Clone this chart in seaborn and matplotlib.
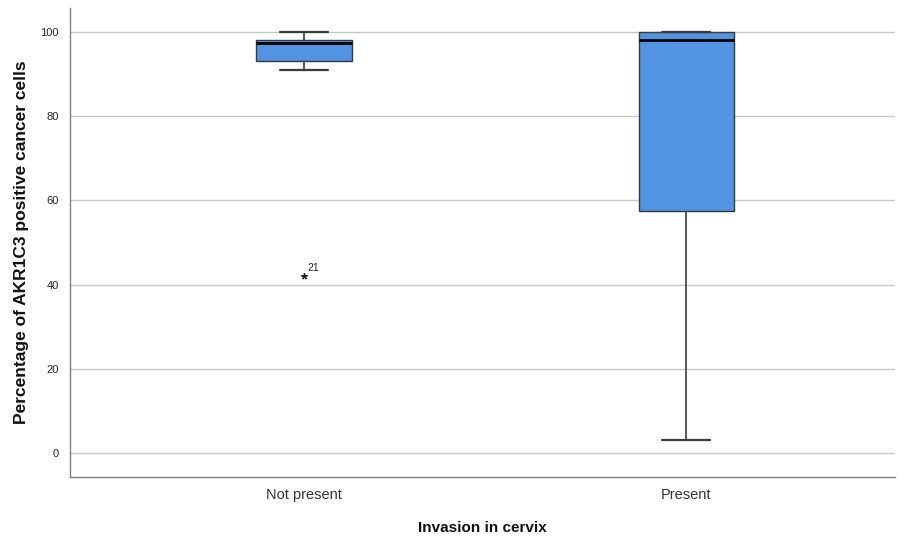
import matplotlib
matplotlib.use("Agg")
import matplotlib.pyplot as plt
import seaborn as sns
import pandas as pd

# Five-number summaries per group (lower whisker, Q1, median, Q3, upper whisker)
groups = ["Not present", "Present"]
not_present_summary = [91.0, 93.1, 97.4, 98.1, 100.0]
present_summary = [3.0, 57.5, 98.1, 100.0, 100.0]

# Extreme outlier
outlier_group = ["Not present"]
outlier_value = [42.0]
outlier_case = ["21"]

df = pd.DataFrame({
    "Invasion in cervix": [groups[0]] * len(not_present_summary) + [groups[1]] * len(present_summary),
    "value": not_present_summary + present_summary,
})

sns.set_theme(style="white")
plt.rcParams["font.family"] = ["Liberation Sans", "DejaVu Sans"]

fig = plt.figure(figsize=(9.09, 5.45), dpi=100)
ax = fig.add_axes([0.077, 0.125, 0.908, 0.86])

edge = "#3a3a3a"
sns.boxplot(
    data=df, x="Invasion in cervix", y="value", order=groups, ax=ax,
    width=0.25, color="#5294e2", saturation=1, showfliers=False, whis=1.5,
    boxprops=dict(edgecolor=edge, linewidth=1.0),
    whiskerprops=dict(color=edge, linewidth=1.2),
    capprops=dict(color=edge, linewidth=1.6),
    medianprops=dict(color="black", linewidth=2.0),
)

# extreme outliers as asterisks with case numbers
for g, v, c in zip(outlier_group, outlier_value, outlier_case):
    xpos = groups.index(g)
    ax.plot(xpos, v, marker=(5, 2, 0), color="#222222", markersize=4.5,
            markeredgewidth=1.0, linestyle="none")
    ax.annotate(c, (xpos, v), xytext=(2, 4), textcoords="offset points",
                fontsize=7.5, color="#222222")

ax.set_xlim(-0.613, 1.547)
ax.set_ylim(-5.7, 105.7)
ax.set_yticks([0, 20, 40, 60, 80, 100])
ax.yaxis.grid(True, color="#c8c8c8", linewidth=1.0)
ax.set_axisbelow(True)

for s in ["top", "right"]:
    ax.spines[s].set_visible(False)
for s in ["left", "bottom"]:
    ax.spines[s].set_color("#808080")
    ax.spines[s].set_linewidth(1.0)

ax.tick_params(axis="y", length=0, labelsize=8, labelcolor="#222222", pad=8)
ax.tick_params(axis="x", length=0, labelsize=10.5, labelcolor="#333333", pad=8)

ax.set_xlabel("Invasion in cervix", fontsize=11, fontweight="bold", labelpad=14, color="#111111")
ax.set_ylabel("Percentage of AKR1C3 positive cancer cells", fontsize=12.5, fontweight="bold",
              labelpad=8, color="#111111")

fig.savefig("out.png", dpi=100)
